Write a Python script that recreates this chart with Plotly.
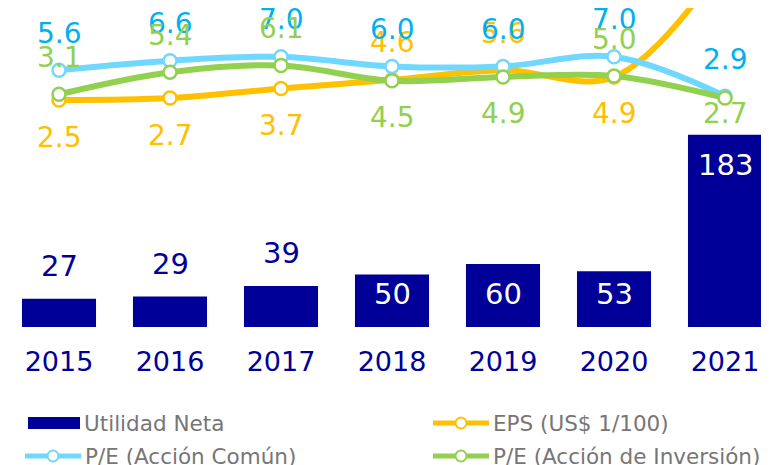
import plotly.graph_objects as go

# ---------------- data ----------------
years = ["2015", "2016", "2017", "2018", "2019", "2020", "2021"]
utilidad_neta = [27, 29, 39, 50, 60, 53, 183]
eps = [2.5, 2.7, 3.7, 4.6, 5.6, 4.9, 16.9]
pe_comun = [5.6, 6.6, 7.0, 6.0, 6.0, 7.0, 2.9]
pe_inversion = [3.1, 5.4, 6.1, 4.5, 4.9, 5.0, 2.7]

# ---------------- style ----------------
NAVY = "#000099"
YELLOW = "#FFC000"
BLUE_LINE = "#70D8FF"
BLUE_TEXT = "#00B0F0"
GREEN = "#92D050"
GRAY = "#767676"
FONT = "DejaVu Sans"

OFF = 8                      # page body margin
W, H = 769 - OFF, 465 - OFF  # figure size
PLOT_BOTTOM = 327 - OFF      # figure pixel of plot-area bottom (margin t = 0)

# label placement (+1 above, -1 below)
eps_side = [-1, -1, -1, 1, 1, -1, 1]
comun_side = [1, 1, 1, 1, 1, 1, 1]
inversion_side = [1, 1, 1, -1, -1, 1, -1]

Y1_RANGE = [0, PLOT_BOTTOM / 1.05]
Y2_RANGE = [-(PLOT_BOTTOM - 116) / 9.6, 116 / 9.6]
X_RANGE = [-51 / 111, (W - 51) / 111]

idx = list(range(len(years)))

fig = go.Figure()

fig.add_trace(go.Bar(
    x=idx, y=utilidad_neta, name="Utilidad Neta",
    marker=dict(color=NAVY, line=dict(width=0)),
    yaxis="y", showlegend=False, hoverinfo="skip",
))

line_series = [
    ("EPS (US$ 1/100)", eps, YELLOW, YELLOW, eps_side),
    ("P/E (Acción Común)", pe_comun, BLUE_LINE, BLUE_TEXT, comun_side),
    ("P/E (Acción de Inversión)", pe_inversion, GREEN, GREEN, inversion_side),
]

for name, vals, lc, tc, side in line_series:
    fig.add_trace(go.Scatter(
        x=idx, y=vals, name=name, yaxis="y2",
        mode="lines+markers",
        line=dict(color=lc, width=6, shape="spline", smoothing=1),
        marker=dict(size=13, color="white", line=dict(color=lc, width=2.5)),
        showlegend=False, hoverinfo="skip", cliponaxis=True,
    ))

annotations = []
# line labels
for name, vals, lc, tc, side in line_series:
    for i, v, s in zip(idx, vals, side):
        if v > Y2_RANGE[1]:
            continue
        short = name.startswith("P/E (Acción de") and i == len(idx) - 1
        shift = 37 * s if not short else -15
        annotations.append(dict(
            x=i, y=v, xref="x", yref="y2", text=f"{v:.1f}",
            showarrow=False, yshift=shift, yanchor="middle",
            font=dict(family=FONT, size=28, color=tc),
        ))

# bar labels
for i, v in zip(idx, utilidad_neta):
    if v < 45:
        y, shift, col = v, 33, NAVY
    elif v < 100:
        y, shift, col = 0, 33, "white"
    else:
        y, shift, col = v, -30, "white"
    annotations.append(dict(
        x=i, y=y, xref="x", yref="y", text=str(v), showarrow=False,
        yshift=shift, yanchor="middle",
        font=dict(family=FONT, size=29, color=col),
    ))

# manual legend (coordinates given in page pixels)
def px_x(p):
    return (p - OFF) / W

def px_y(p):
    return (PLOT_BOTTOM - (p - OFF)) / PLOT_BOTTOM

shapes = []
legend_items = [
    ("Utilidad Neta", NAVY, "bar", 28, 423),
    ("EPS (US$ 1/100)", YELLOW, "line", 433, 423),
    ("P/E (Acción Común)", BLUE_LINE, "line", 25, 456),
    ("P/E (Acción de Inversión)", GREEN, "line", 433, 456),
]
for label, col, kind, x0, yc in legend_items:
    if kind == "bar":
        sym_end = x0 + 52
        shapes.append(dict(type="rect", xref="paper", yref="paper",
                           x0=px_x(x0), x1=px_x(sym_end),
                           y0=px_y(yc + 6), y1=px_y(yc - 6),
                           fillcolor=col, line=dict(width=0)))
    else:
        sym_end = x0 + 56
        shapes.append(dict(type="line", xref="paper", yref="paper",
                           x0=px_x(x0), x1=px_x(sym_end),
                           y0=px_y(yc), y1=px_y(yc),
                           line=dict(color=col, width=5)))
        shapes.append(dict(type="circle", xref="paper", yref="paper",
                           xsizemode="pixel", ysizemode="pixel",
                           xanchor=px_x(x0 + 28), yanchor=px_y(yc),
                           x0=-5.5, x1=5.5, y0=-5.5, y1=5.5,
                           fillcolor="white", line=dict(color=col, width=2)))
    annotations.append(dict(
        x=px_x(sym_end + 2), y=px_y(yc), xref="paper", yref="paper",
        text=label, showarrow=False, xanchor="left", yanchor="middle",
        font=dict(family=FONT, size=21.5, color=GRAY),
    ))

fig.update_layout(
    width=W, height=H,
    margin=dict(l=0, r=0, t=0, b=H - PLOT_BOTTOM, pad=0),
    paper_bgcolor="white", plot_bgcolor="white",
    bargap=0.333,
    showlegend=False,
    xaxis=dict(range=X_RANGE, showgrid=False,
               zeroline=False, showline=False, ticks="",
               tickmode="array", tickvals=idx, ticktext=years,
               tickfont=dict(family=FONT, size=27, color=NAVY),
               ticklabelstandoff=16),
    yaxis=dict(range=Y1_RANGE, visible=False, showgrid=False, zeroline=False),
    yaxis2=dict(range=Y2_RANGE, overlaying="y", visible=False,
                showgrid=False, zeroline=False),
    annotations=annotations,
    shapes=shapes,
)

fig.write_html("out.html")
